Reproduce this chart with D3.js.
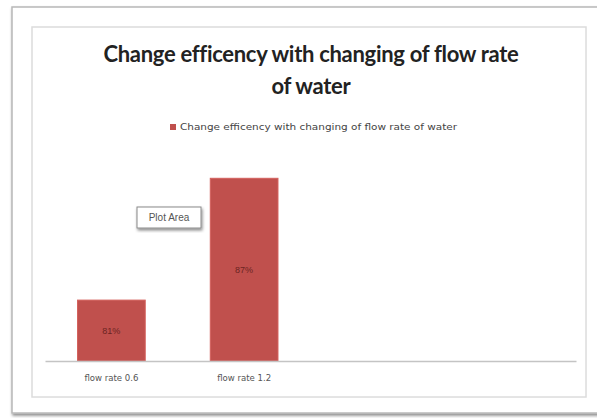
<!DOCTYPE html>
<html>
<head>
<meta charset="utf-8">
<script src="https://cdn.jsdelivr.net/npm/d3@7"></script>
<style>
  body { margin: 0; background: #fff; }
  svg { display: block; }
</style>
</head>
<body>
<div id="chart"></div>
<script>
/* CONSTANTS AND GLOBALS */
const width = 597;
const height = 418;

// data
const categories = ["flow rate 0.6", "flow rate 1.2"];
const efficiency = [81, 87];
const seriesName = "Change efficency with changing of flow rate of water";
const titleLines = ["Change efficency with changing of flow rate", "of water"];
const slotCount = 4; // the category axis has room for 4 slots, only 2 used

const plot = { left: 45, right: 576, top: 150, bottom: 361 };

const svg = d3.select("#chart")
  .append("svg")
  .attr("width", width)
  .attr("height", height);

const defs = svg.append("defs");
const blur = defs.append("filter").attr("id", "shadow")
  .attr("x", "-20%").attr("y", "-20%").attr("width", "140%").attr("height", "140%");
blur.append("feDropShadow").attr("dx", 1).attr("dy", 2).attr("stdDeviation", 1.5)
  .attr("flood-color", "#000").attr("flood-opacity", 0.45);

// outer frame (picture border with shadow)
svg.append("rect")
  .attr("x", 12).attr("y", 7).attr("width", 590).attr("height", 406)
  .attr("fill", "#fff").attr("stroke", "#b8b8b8").attr("stroke-width", 1.5)
  .attr("filter", "url(#shadow)");

// chart area border
svg.append("rect")
  .attr("x", 32).attr("y", 27).attr("width", 554).attr("height", 370)
  .attr("fill", "#fff").attr("stroke", "#dcdcdc").attr("stroke-width", 1.5);

/* SCALES */
const xScale = d3.scaleBand()
  .domain(d3.range(slotCount))
  .range([plot.left, plot.right])
  .paddingInner(0.49)
  .paddingOuter(0.245);

const yScale = d3.scaleLinear()
  .domain([78, 88])
  .range([plot.bottom, plot.bottom - 203]);

// title
svg.append("g").selectAll("text")
  .data(titleLines)
  .join("text")
  .attr("x", 311)
  .attr("y", (d, i) => 62 + i * 32)
  .attr("text-anchor", "middle")
  .attr("font-family", "Lato, 'Open Sans', sans-serif")
  .attr("font-weight", "bold")
  .attr("font-size", 22)
  .attr("letter-spacing", -0.3)
  .attr("fill", "#222")
  .text(d => d);

// legend
const legend = svg.append("g").attr("transform", "translate(170,123)");
legend.append("rect").attr("width", 6).attr("height", 6).attr("y", 1).attr("fill", "#c0504d");
legend.append("text")
  .attr("x", 10).attr("y", 7)
  .attr("font-family", "'Liberation Sans Narrow', 'DejaVu Sans Condensed', sans-serif")
  .attr("font-size", 8)
  .attr("textLength", 277)
  .attr("lengthAdjust", "spacingAndGlyphs")
  .attr("fill", "#444")
  .text(seriesName);

// bars
svg.append("g").selectAll("rect")
  .data(efficiency)
  .join("rect")
  .attr("x", (d, i) => xScale(i))
  .attr("y", d => yScale(d))
  .attr("width", xScale.bandwidth())
  .attr("height", d => yScale.range()[0] - yScale(d))
  .attr("fill", "#c0504d")
  .attr("stroke", "#d4605c")
  .attr("stroke-width", 1);

// data labels
svg.append("g").selectAll("text")
  .data(efficiency)
  .join("text")
  .attr("x", (d, i) => xScale(i) + xScale.bandwidth() / 2)
  .attr("y", d => (yScale(d) + yScale.range()[0]) / 2 + 3)
  .attr("text-anchor", "middle")
  .attr("font-family", "'Liberation Sans', sans-serif")
  .attr("font-size", 9)
  .attr("fill", "#6b2422")
  .text(d => d + "%");

// category axis
const xAxis = d3.axisBottom(xScale)
  .tickSize(0)
  .tickFormat(i => categories[i] || "");
const axisG = svg.append("g")
  .attr("transform", `translate(0,${plot.bottom})`)
  .call(xAxis);
axisG.select(".domain").attr("stroke", "#c4c4c4").attr("stroke-width", 1.5);
axisG.selectAll("text")
  .attr("dy", 0)
  .attr("y", 20)
  .attr("font-family", "'Liberation Sans Narrow', 'DejaVu Sans Condensed', sans-serif")
  .attr("font-size", 9.5)
  .attr("fill", "#555");

// "Plot Area" tooltip
const tip = svg.append("g").attr("transform", "translate(137,207)");
tip.append("rect")
  .attr("width", 64).attr("height", 21)
  .attr("fill", "#fff").attr("stroke", "#8a8a8a").attr("stroke-width", 1)
  .attr("filter", "url(#shadow)");
tip.append("text")
  .attr("x", 32).attr("y", 14)
  .attr("text-anchor", "middle")
  .attr("font-family", "'Liberation Sans', sans-serif")
  .attr("font-size", 10)
  .attr("fill", "#555")
  .text("Plot Area");
</script>
</body>
</html>
